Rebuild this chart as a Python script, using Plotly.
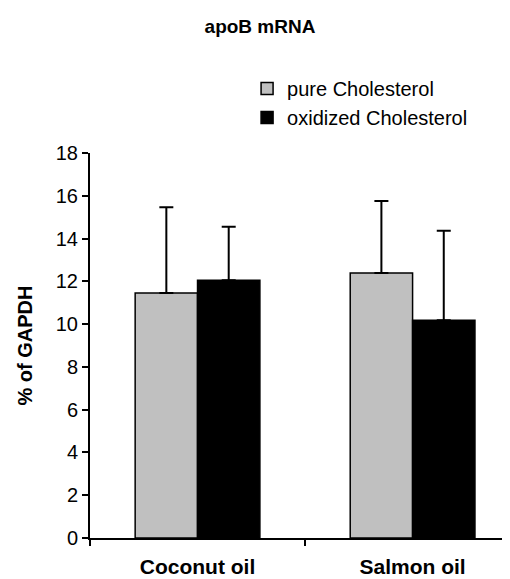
import plotly.graph_objects as go

categories = ["Coconut oil", "Salmon oil"]
pure_vals = [11.46, 12.39]
pure_err = [4.0, 3.37]
ox_vals = [12.05, 10.18]
ox_err = [2.5, 4.19]
y_ticks = [0, 2, 4, 6, 8, 10, 12, 14, 16, 18]

font = "Liberation Sans, Arial, sans-serif"

fig = go.Figure()
fig.add_trace(go.Bar(
    x=categories, y=pure_vals, name="pure Cholesterol",
    marker=dict(color="#c0c0c0", line=dict(color="black", width=1.5)),
    error_y=dict(type="data", symmetric=False, array=pure_err, arrayminus=[0, 0],
                 color="black", thickness=2, width=7),
))
fig.add_trace(go.Bar(
    x=categories, y=ox_vals, name="oxidized Cholesterol",
    marker=dict(color="black", line=dict(color="black", width=1.5)),
    error_y=dict(type="data", symmetric=False, array=ox_err, arrayminus=[0, 0],
                 color="black", thickness=2, width=7),
))

fig.update_layout(
    width=502, height=571,
    margin=dict(l=82, r=0, t=145, b=41, autoexpand=False),
    paper_bgcolor="white", plot_bgcolor="white",
    barmode="group", bargap=0.42, bargroupgap=0,
    font=dict(family=font, size=20, color="black"),
    title=dict(text="<b>apoB mRNA</b>", x=0.502, xanchor="center", y=0.967, yanchor="middle",
               font=dict(size=19, family=font)),
    legend=dict(x=0.374, xanchor="left", y=1.218, yanchor="top",
                font=dict(size=20, family=font), bgcolor="rgba(0,0,0,0)",
                itemwidth=30, tracegroupgap=0),
    showlegend=True,
)
fig.update_xaxes(
    range=[-0.5, 1.453], showline=True, linecolor="black", linewidth=2,
    ticks="outside", ticklen=6, tickwidth=1.5, tickcolor="black", tickson="boundaries",
    tickfont=dict(size=21, family=font), tickprefix="<b>", ticksuffix="</b>",
    ticklabelstandoff=9, showgrid=False, zeroline=False, automargin=False,
)
fig.update_yaxes(
    range=[0, 18], tickvals=y_ticks, showline=True, linecolor="black", linewidth=2,
    ticks="outside", ticklen=6, tickwidth=1.5, tickcolor="black",
    tickfont=dict(size=20, family=font), showgrid=False, zeroline=False, automargin=False,
    title=dict(text="<b>% of GAPDH</b>", font=dict(size=20, family=font), standoff=18),
)

fig.write_html("out.html")
